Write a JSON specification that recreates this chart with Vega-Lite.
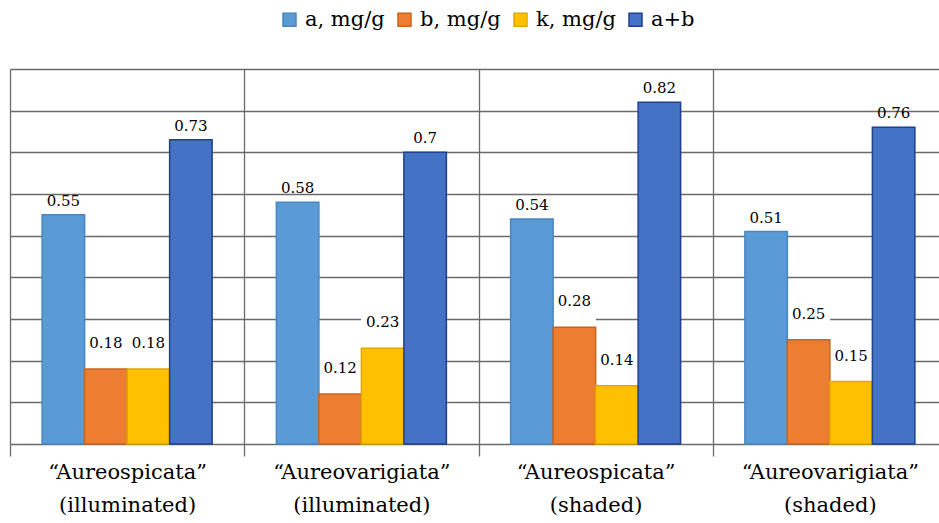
{
  "$schema": "https://vega.github.io/schema/vega-lite/v6.json",
  "width": 929,
  "height": 375,
  "autosize": {"type": "none"},
  "padding": {"left": 10, "top": 69, "right": 0, "bottom": 79},
  "background": "white",
  "config": {"view": {"stroke": null}, "font": "DejaVu Serif"},
  "data": {
    "values": [
      {"group": "“Aureospicata”|(illuminated)", "series": "a, mg/g", "value": 0.55},
      {"group": "“Aureospicata”|(illuminated)", "series": "b, mg/g", "value": 0.18},
      {"group": "“Aureospicata”|(illuminated)", "series": "k, mg/g", "value": 0.18},
      {"group": "“Aureospicata”|(illuminated)", "series": "a+b", "value": 0.73},
      {"group": "“Aureovarigiata”|(illuminated)", "series": "a, mg/g", "value": 0.58},
      {"group": "“Aureovarigiata”|(illuminated)", "series": "b, mg/g", "value": 0.12},
      {"group": "“Aureovarigiata”|(illuminated)", "series": "k, mg/g", "value": 0.23},
      {"group": "“Aureovarigiata”|(illuminated)", "series": "a+b", "value": 0.7},
      {"group": "“Aureospicata”|(shaded)", "series": "a, mg/g", "value": 0.54},
      {"group": "“Aureospicata”|(shaded)", "series": "b, mg/g", "value": 0.28},
      {"group": "“Aureospicata”|(shaded)", "series": "k, mg/g", "value": 0.14},
      {"group": "“Aureospicata”|(shaded)", "series": "a+b", "value": 0.82},
      {"group": "“Aureovarigiata”|(shaded)", "series": "a, mg/g", "value": 0.51},
      {"group": "“Aureovarigiata”|(shaded)", "series": "b, mg/g", "value": 0.25},
      {"group": "“Aureovarigiata”|(shaded)", "series": "k, mg/g", "value": 0.15},
      {"group": "“Aureovarigiata”|(shaded)", "series": "a+b", "value": 0.76}
    ]
  },
  "encoding": {
    "x": {
      "field": "group", "type": "nominal", "sort": null,
      "scale": {"paddingInner": 0, "paddingOuter": 0, "range": [0, 937]},
      "axis": {
        "title": null, "labelAngle": 0, "tickBand": "extent", "grid": true,
        "gridColor": "#6a6a6a", "gridWidth": 1.3, "tickColor": "#6a6a6a", "tickWidth": 1.3,
        "tickSize": 12, "domain": false, "labelFont": "DejaVu Serif", "labelFontSize": 21,
        "labelColor": "black", "labelLineHeight": 33, "labelPadding": 5,
        "labelBaseline": "top", "labelExpr": "split(datum.label, '|')"
      }
    },
    "xOffset": {
      "field": "series", "type": "nominal",
      "sort": ["a, mg/g", "b, mg/g", "k, mg/g", "a+b"],
      "scale": {"paddingOuter": 0.756, "paddingInner": 0}
    },
    "y": {
      "field": "value", "type": "quantitative",
      "scale": {"domain": [0, 0.9], "nice": false},
      "axis": {
        "title": null, "labels": false, "ticks": false, "domain": false, "grid": true,
        "values": [0, 0.1, 0.2, 0.3, 0.4, 0.5, 0.6, 0.7, 0.8, 0.9],
        "gridColor": "#6a6a6a", "gridWidth": 1.3
      }
    }
  },
  "layer": [
    {
      "transform": [{"filter": "datum.series == 'b, mg/g' || datum.series == 'k, mg/g'"}],
      "mark": {"type": "tick", "color": "white", "thickness": 80, "size": 43, "opacity": 1},
      "encoding": {}
    },
    {
      "mark": {"type": "bar", "strokeWidth": 1.5},
      "encoding": {
        "color": {
          "field": "series", "type": "nominal",
          "scale": {"domain": ["a, mg/g", "b, mg/g", "k, mg/g", "a+b"], "range": ["#5B9BD5", "#ED7D31", "#FFC000", "#4472C4"]},
          "legend": {
            "orient": "none", "legendX": 269, "legendY": -60, "direction": "horizontal", "columns": 4,
            "title": null, "symbolType": "square", "symbolSize": 169, "labelFont": "DejaVu Serif",
            "labelFontSize": 21, "labelColor": "black", "columnPadding": 9, "labelOffset": 5
          }
        },
        "stroke": {
          "field": "series", "type": "nominal",
          "scale": {"domain": ["a, mg/g", "b, mg/g", "k, mg/g", "a+b"], "range": ["#4A86BF", "#C8651F", "#E0A800", "#203F8F"]},
          "legend": null
        }
      }
    },
    {
      "transform": [{"filter": "datum.series == 'a, mg/g' || datum.series == 'a+b'"}],
      "mark": {"type": "text", "dy": -9, "baseline": "alphabetic", "font": "DejaVu Serif", "fontSize": 15, "color": "black"},
      "encoding": {"text": {"field": "value", "type": "nominal"}}
    },
    {
      "transform": [{"filter": "datum.series == 'b, mg/g' || datum.series == 'k, mg/g'"}],
      "mark": {"type": "text", "dy": -21, "baseline": "alphabetic", "font": "DejaVu Serif", "fontSize": 15, "color": "black"},
      "encoding": {"text": {"field": "value", "type": "nominal"}}
    }
  ]
}
